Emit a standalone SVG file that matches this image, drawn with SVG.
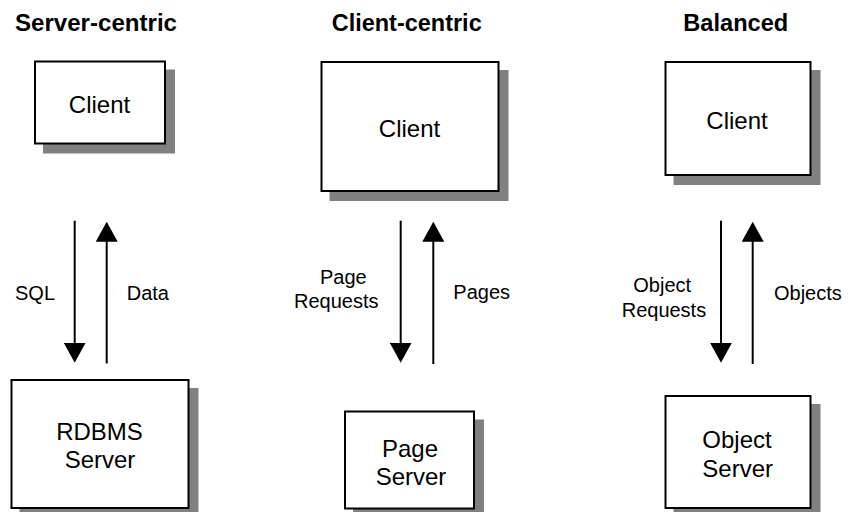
<svg xmlns="http://www.w3.org/2000/svg" width="849" height="512" viewBox="0 0 849 512">
  <style>
    text { font-family: "Liberation Sans", Arial, Helvetica, sans-serif; fill: #000; }
    .title { font-size: 23.5px; font-weight: bold; }
    .node { font-size: 24px; text-anchor: middle; }
    .label { font-size: 20px; }
    .box { fill: #fff; stroke: #000; stroke-width: 2; }
    .shadow { fill: #808080; }
    .conn { stroke: #000; stroke-width: 2; fill: none; marker-end: url(#head); }
  </style>
  <defs>
    <marker id="head" viewBox="0 0 20 22" refX="10" refY="11" markerWidth="20" markerHeight="22" markerUnits="userSpaceOnUse" orient="auto">
      <path d="M0,0 L20,11 L0,22 Z" fill="#000"/>
    </marker>
  </defs>
  <rect width="849" height="512" fill="#fff"/>

  <!-- column headings -->
  <g id="headings">
    <text class="title" x="15" y="31" textLength="162" lengthAdjust="spacingAndGlyphs">Server-centric</text>
    <text class="title" x="331.7" y="31" textLength="150" lengthAdjust="spacingAndGlyphs">Client-centric</text>
    <text class="title" x="683.3" y="31" textLength="105" lengthAdjust="spacingAndGlyphs">Balanced</text>
  </g>

  <!-- server-centric column -->
  <g id="client-server-centric">
    <rect class="shadow" x="43" y="69.5" width="132" height="84"/>
    <rect class="box" x="35" y="61.5" width="130" height="82"/>
    <text class="node" x="99.5" y="113.3">Client</text>
  </g>
  <g id="rdbms-server">
    <rect class="shadow" x="19.5" y="388" width="179" height="130"/>
    <rect class="box" x="11.5" y="380" width="177" height="128"/>
    <text class="node" x="99.5" y="440">RDBMS</text>
    <text class="node" x="100" y="468.3">Server</text>
  </g>

  <!-- client-centric column -->
  <g id="client-client-centric">
    <rect class="shadow" x="329.5" y="70" width="179" height="131"/>
    <rect class="box" x="321.5" y="62" width="177" height="129"/>
    <text class="node" x="409.5" y="136.7">Client</text>
  </g>
  <g id="page-server">
    <rect class="shadow" x="353" y="419.5" width="131" height="99"/>
    <rect class="box" x="345" y="411.5" width="129" height="97"/>
    <text class="node" x="410" y="456.7">Page</text>
    <text class="node" x="411" y="485">Server</text>
  </g>

  <!-- balanced column -->
  <g id="client-balanced">
    <rect class="shadow" x="673.5" y="70" width="147" height="115"/>
    <rect class="box" x="665.5" y="62" width="145" height="113"/>
    <text class="node" x="737" y="129">Client</text>
  </g>
  <g id="object-server">
    <rect class="shadow" x="673.5" y="404" width="147" height="114"/>
    <rect class="box" x="665.5" y="396" width="145" height="112"/>
    <text class="node" x="737" y="448.3">Object</text>
    <text class="node" x="737.7" y="476.7">Server</text>
  </g>

  <!-- request / response connectors -->
  <g id="connectors">
    <line class="conn" x1="74.7" y1="220.7" x2="74.7" y2="352.7"/>
    <line class="conn" x1="106.7" y1="363.5" x2="106.7" y2="231.7"/>
    <line class="conn" x1="400.7" y1="220.7" x2="400.7" y2="352.7"/>
    <line class="conn" x1="433.3" y1="364" x2="433.3" y2="231.7"/>
    <line class="conn" x1="721" y1="220.7" x2="721" y2="352.7"/>
    <line class="conn" x1="752.7" y1="364" x2="752.7" y2="231.7"/>
  </g>

  <!-- connector labels -->
  <g id="labels">
    <text class="label" x="15" y="300">SQL</text>
    <text class="label" x="126.7" y="300">Data</text>
    <text class="label" x="320" y="284">Page</text>
    <text class="label" x="294" y="308.3">Requests</text>
    <text class="label" x="453.3" y="299">Pages</text>
    <text class="label" x="633.3" y="291.7">Object</text>
    <text class="label" x="621.7" y="316.7">Requests</text>
    <text class="label" x="774" y="300">Objects</text>
  </g>
</svg>
